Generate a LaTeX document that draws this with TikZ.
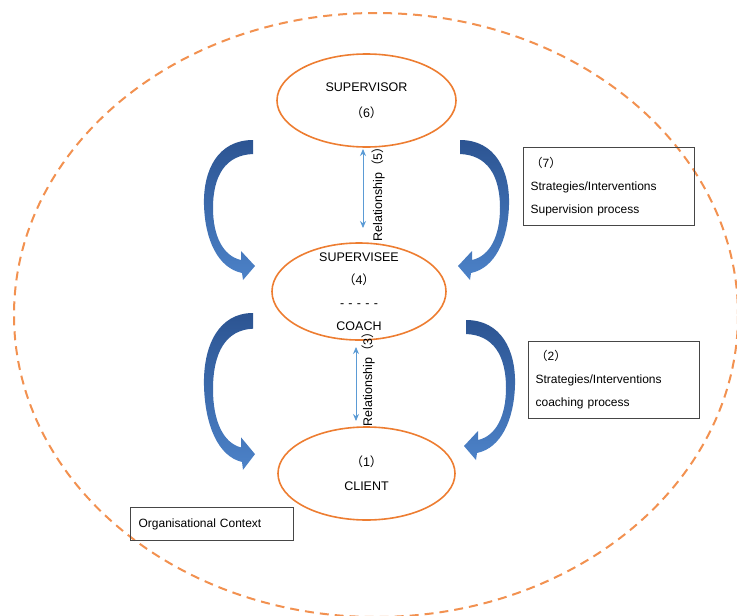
\documentclass[tikz,border=0pt]{standalone}
\usepackage{fontspec}
\setmainfont{Liberation Sans}
\newfontfamily\cjk{Noto Sans CJK SC}
\usetikzlibrary{arrows.meta,shapes.geometric}
\definecolor{ellorange}{RGB}{237,125,49}
\definecolor{ctxorange}{RGB}{242,145,80}
\definecolor{relblue}{RGB}{91,155,213}
\definecolor{darkblue}{RGB}{44,84,146}
\definecolor{lightblue}{RGB}{76,130,200}
\definecolor{boxgray}{RGB}{70,70,70}
\tikzset{
  role/.style={ellipse,draw=ellorange,line width=1.6pt,inner sep=0pt},
  roletext/.style={align=center,font=\fontsize{12.5}{24}\selectfont},
  infobox/.style={draw=boxgray,line width=1.2pt,anchor=north west,align=left,
    inner xsep=7pt,inner ysep=0pt,font=\fontsize{12}{23}\selectfont},
  relarrow/.style={draw=relblue,line width=0.9pt,
    {Stealth[length=7pt,width=6pt]}-{Stealth[length=7pt,width=6pt]}},
  reltext/.style={rotate=90,font=\fontsize{12.5}{14}\selectfont}
}
\newcommand{\fw}[1]{{\cjk （}#1{\cjk ）}}

\begin{document}
\begin{tikzpicture}[x=1pt,y=-1pt]
\useasboundingbox (0,0) rectangle (737,616);
% organisational context
\draw[ctxorange,line width=2pt,dash pattern=on 9pt off 6pt] (376,315) ellipse [x radius=362, y radius=302];
% the three roles
\node[role,minimum width=179pt,minimum height=93pt] (sup) at (366.5,100.5) {};
\node[role,minimum width=174pt,minimum height=97pt] (sve) at (359,291.5) {};
\node[role,minimum width=177pt,minimum height=93pt] (cli) at (366.5,473.5) {};
\node[roletext,font=\fontsize{12.5}{26}\selectfont] (suptext) at (sup) {SUPERVISOR\\\fw{6}};
\node[roletext,font=\fontsize{12.5}{23}\selectfont] (svetext) at (sve) {SUPERVISEE\\\fw{4}\\\hbox to 38pt{-\hfil-\hfil-\hfil-\hfil-}\\COACH};
\node[roletext] (clitext) at (cli) {\fw{1}\\CLIENT};
% relationships
\coordinate (r5top) at (363,149);
\coordinate (r5bot) at (363,228);
\draw[relarrow] (r5top) -- (r5bot);
\node[reltext] (rel5) at (378,191) {Relationship\fw{5}};
\coordinate (r3top) at (356,347);
\coordinate (r3bot) at (356,421);
\draw[relarrow] (r3top) -- (r3bot);
\node[reltext] (rel3) at (368,376) {Relationship\fw{3}};
% strategies / interventions
\foreach \ax/\ay/\sx/\sy in {253/140/1/1, 460/140/-1/1, 253/313/1/1.12, 466/320/-1/1}{
  \begin{scope}[shift={(\ax,\ay)},xscale=\sx,yscale=\sy]
  \shade[top color=darkblue,bottom color=lightblue] (0,0) .. controls (-35,0) and (-50,30) .. (-49,65)
    .. controls (-48,100) and (-35,128) .. (-11,133) -- (-10,140) -- (2,126) -- (-12,111) -- (-12,120)
    .. controls (-30,116) and (-40,96) .. (-40,68) .. controls (-40,35) and (-27,15) .. (0,14) -- cycle;
  \end{scope}
}
% boxes
\node[infobox,text width=157pt,minimum height=78pt] (box7) at (523,147) {\fw{7}\\Strategies/Interventions\\Supervision process};
\node[infobox,text width=157pt,minimum height=77pt] (box2) at (528,341) {\fw{2}\\Strategies/Interventions\\coaching process};
\node[infobox,inner xsep=8pt,text width=147pt,minimum height=33pt] (org) at (130,507) {Organisational Context};
\end{tikzpicture}
\end{document}
